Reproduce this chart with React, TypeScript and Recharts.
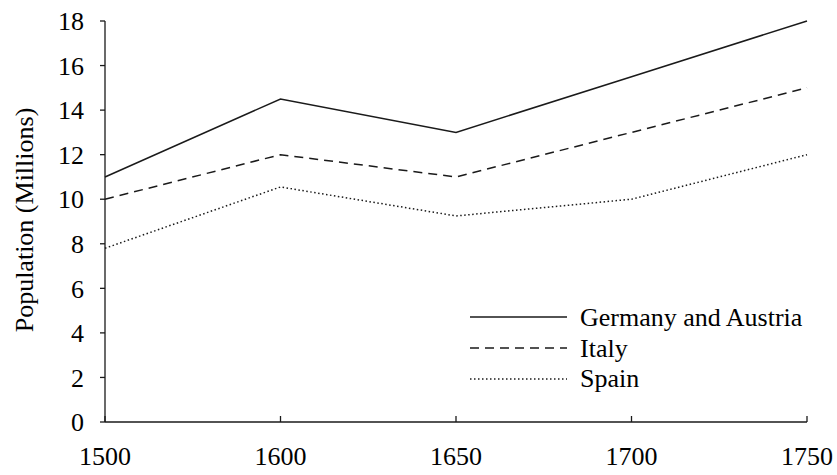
import { Line, LineChart, XAxis, YAxis } from "recharts";

const YEARS = ["1500", "1600", "1650", "1700", "1750"];
const GERMANY_AUSTRIA = [11, 14.5, 13, 15.5, 18];
const ITALY = [10, 12, 11, 13, 15];
const SPAIN = [7.8, 10.55, 9.25, 10, 12];
const Y_TICKS = [0, 2, 4, 6, 8, 10, 12, 14, 16, 18];

const FONT = "Liberation Serif, Times New Roman, serif";
const INK = "#1a1a1a";

const SERIES = [
  { key: "germany", name: "Germany and Austria", dash: undefined as string | undefined },
  { key: "italy", name: "Italy", dash: "9 6" },
  { key: "spain", name: "Spain", dash: "1.5 2.5" },
];

const data = YEARS.map((year, i) => ({
  year,
  germany: GERMANY_AUSTRIA[i],
  italy: ITALY[i],
  spain: SPAIN[i],
}));

const X_TICK_GAP = 25;

function SerifText(props: any) {
  const { children, ...rest } = props;
  return (
    <text fontFamily={FONT} fontSize={26} fill="#000" style={{ fontFamily: FONT }} {...rest}>
      {children}
    </text>
  );
}

function XTick(props: any) {
  const { x, y, payload } = props;
  const axisY = y - X_TICK_GAP;
  return (
    <g>
      <line x1={x} y1={axisY} x2={x} y2={axisY - 6} stroke={INK} strokeWidth={1.3} />
      <SerifText x={x} y={y} dy="0.71em" textAnchor="middle">
        {payload.value}
      </SerifText>
    </g>
  );
}

function YTick(props: any) {
  const { x, y, payload } = props;
  return (
    <SerifText x={x} y={y} dy="0.355em" textAnchor="end">
      {payload.value}
    </SerifText>
  );
}

// legend drawn by hand, sits over the lower right of the plot
function LegendBox() {
  return (
    <svg width={360} height={100} style={{ position: "absolute", left: 470, top: 300 }}>
      {SERIES.map((s, i) => (
        <g key={s.key}>
          <line
            x1={0}
            x2={97}
            y1={17 + 31 * i}
            y2={17 + 31 * i}
            stroke={INK}
            strokeWidth={1.4}
            strokeDasharray={s.dash}
          />
          <SerifText x={110} y={26 + 30.5 * i}>
            {s.name}
          </SerifText>
        </g>
      ))}
    </svg>
  );
}

export default function App() {
  return (
    <div style={{ position: "absolute", left: 0, top: 0, width: 837, height: 475, background: "#fff", fontFamily: FONT }}>
      <LineChart width={837} height={475} data={data} margin={{ top: 21, right: 30, left: 0, bottom: 23 }}>
        <XAxis
          dataKey="year"
          height={30}
          axisLine={{ stroke: INK, strokeWidth: 1.3 }}
          tickLine={false}
          tickSize={0}
          tickMargin={X_TICK_GAP}
          tick={<XTick />}
          interval={0}
        />
        <YAxis
          width={105}
          domain={[0, 18]}
          ticks={Y_TICKS}
          interval={0}
          axisLine={{ stroke: INK, strokeWidth: 1.3 }}
          tickLine={{ stroke: INK, strokeWidth: 1.3 }}
          tickSize={5}
          tickMargin={16}
          tick={<YTick />}
          label={{
            content: () => (
              <SerifText x={33} y={220} transform="rotate(-90 33 220)" textAnchor="middle">
                Population (Millions)
              </SerifText>
            ),
          }}
        />
        {SERIES.map((s) => (
          <Line
            key={s.key}
            dataKey={s.key}
            name={s.name}
            type="linear"
            stroke={INK}
            strokeWidth={1.5}
            strokeDasharray={s.dash}
            dot={false}
            activeDot={false}
            isAnimationActive={false}
          />
        ))}
      </LineChart>
      <LegendBox />
    </div>
  );
}
